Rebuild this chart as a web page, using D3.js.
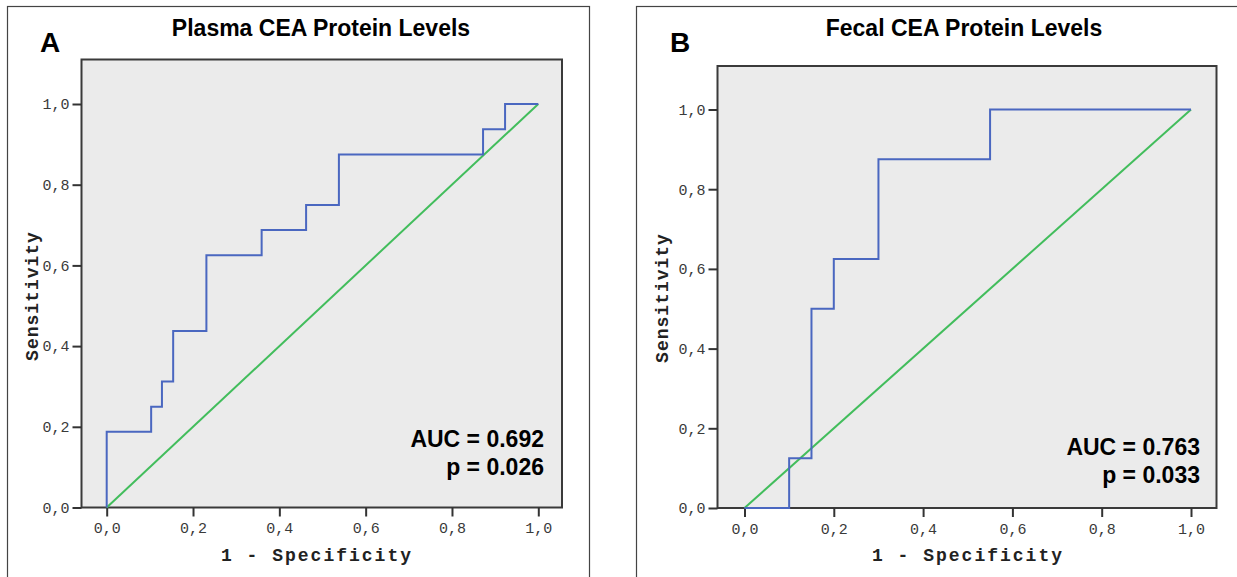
<!DOCTYPE html>
<html>

<head>
    <meta charset="utf-8">
    <style>
        body {
            margin: 0;
            background: #fff;
        }

        svg {
            display: block;
        }

        .title {
            font-family: "Liberation Sans", Arial, sans-serif;
            font-size: 23px;
            font-weight: bold;
        }

        .panel-letter {
            font-family: "Liberation Sans", Arial, sans-serif;
            font-size: 28px;
            font-weight: bold;
        }

        .stats {
            font-family: "Liberation Sans", Arial, sans-serif;
            font-size: 23px;
            font-weight: bold;
        }

        .axis-title {
            font-family: "Liberation Mono", "Courier New", monospace;
            font-size: 18px;
            font-weight: bold;
            fill: #222;
        }

        .axis .domain {
            display: none;
        }

        .axis .tick line {
            stroke: #333;
            stroke-width: 2px;
        }

        .axis .tick text {
            font-family: "Liberation Mono", "Courier New", monospace;
            font-size: 15px;
            fill: #3a3a3a;
        }
    </style>
</head>

<body>
    <svg width="1237" height="577"></svg>
</body>

<script src="https://d3js.org/d3.v7.min.js"></script>

<script>
    // tick values shared by both axes, labels use a decimal comma
    let tickValues = [0, 0.2, 0.4, 0.6, 0.8, 1.0]
    let tickLabels = ["0,0", "0,2", "0,4", "0,6", "0,8", "1,0"]

    // ROC coordinates (1 - specificity, sensitivity), stepped
    let plasmaFpr = [0, 0, 0.103, 0.128, 0.154, 0.231, 0.359, 0.462, 0.538, 0.872, 0.923, 1]
    let plasmaTpr = [0, 0.1875, 0.25, 0.3125, 0.4375, 0.625, 0.6875, 0.75, 0.875, 0.9375, 1, 1]

    let fecalFpr = [0, 0.1, 0.15, 0.2, 0.3, 0.55, 1]
    let fecalTpr = [0, 0.125, 0.5, 0.625, 0.875, 1, 1]

    // reference diagonal
    let diagonal = [0, 1]

    let titles = ["Plasma CEA Protein Levels", "Fecal CEA Protein Levels"]
    let letters = ["A", "B"]
    let aucText = ["AUC = 0.692", "AUC = 0.763"]
    let pText = ["p = 0.026", "p = 0.033"]

    let svg = d3.select("svg")

    // pixel layout of each panel
    let panels = [
        {
            frame: { x: 7.5, y: 6.5, w: 582, h: 600 },
            box: { left: 81.5, top: 59.5, right: 562, bottom: 507.5 },
            x0: 106.7, x1: 538.3, y0: 507.5, y1: 104,
            titleX: 321, letterX: 40, statsX: 544, statsY: 447,
            yTitleX: 38, yTitleY: 296, xTitleX: 317, xTitleY: 561,
            fpr: plasmaFpr, tpr: plasmaTpr
        },
        {
            frame: { x: 636.5, y: 6.5, w: 640, h: 600 },
            box: { left: 717.5, top: 66, right: 1216.5, bottom: 508 },
            x0: 744.5, x1: 1191, y0: 508, y1: 109.5,
            titleX: 964, letterX: 670, statsX: 1200, statsY: 455,
            yTitleX: 668, yTitleY: 298, xTitleX: 968, xTitleY: 561,
            fpr: fecalFpr, tpr: fecalTpr
        }
    ]

    panels.forEach(function (p, i) {
        let g = svg.append("g")

        g.append("rect")
            .attr("x", p.frame.x)
            .attr("y", p.frame.y)
            .attr("width", p.frame.w)
            .attr("height", p.frame.h)
            .style("fill", "none")
            .style("stroke", "#444")
            .style("stroke-width", "1.2px")

        let x = d3.scaleLinear().domain([0, 1]).range([p.x0, p.x1])
        let y = d3.scaleLinear().domain([0, 1]).range([p.y0, p.y1])

        // plot area
        g.append("rect")
            .attr("x", p.box.left)
            .attr("y", p.box.top)
            .attr("width", p.box.right - p.box.left)
            .attr("height", p.box.bottom - p.box.top)
            .style("fill", "#ebebeb")
            .style("stroke", "#3a3a3a")
            .style("stroke-width", "2px")

        let fmt = function (d) { return tickLabels[tickValues.indexOf(d)] }

        g.append("g")
            .attr("class", "axis")
            .attr("transform", `translate(${p.box.left},0)`)
            .call(d3.axisLeft(y).tickValues(tickValues).tickFormat(fmt).tickSize(9).tickPadding(3))

        g.append("g")
            .attr("class", "axis")
            .attr("transform", `translate(0,${p.box.bottom})`)
            .call(d3.axisBottom(x).tickValues(tickValues).tickFormat(fmt).tickSize(9).tickPadding(6))

        // green reference line
        g.append("path")
            .datum(diagonal)
            .attr("d", d3.line().x(d => x(d)).y(d => y(d)))
            .style("fill", "none")
            .style("stroke", "#42bd5c")
            .style("stroke-width", "2px")

        // ROC curve
        let pts = p.fpr.map(function (f, k) { return [f, p.tpr[k]] })
        g.append("path")
            .datum(pts)
            .attr("d", d3.line().x(d => x(d[0])).y(d => y(d[1])).curve(d3.curveStepAfter))
            .style("fill", "none")
            .style("stroke", "#4a67c0")
            .style("stroke-width", "2px")

        g.append("text")
            .attr("class", "title")
            .attr("x", p.titleX)
            .attr("y", 36)
            .attr("text-anchor", "middle")
            .text(titles[i])

        g.append("text")
            .attr("class", "panel-letter")
            .attr("x", p.letterX)
            .attr("y", 52)
            .text(letters[i])

        g.append("text")
            .attr("class", "stats")
            .attr("x", p.statsX)
            .attr("y", p.statsY)
            .attr("text-anchor", "end")
            .text(aucText[i])

        g.append("text")
            .attr("class", "stats")
            .attr("x", p.statsX)
            .attr("y", p.statsY + 28)
            .attr("text-anchor", "end")
            .text(pText[i])

        g.append("text")
            .attr("class", "axis-title")
            .attr("transform", `translate(${p.yTitleX},${p.yTitleY}) rotate(-90)`)
            .attr("text-anchor", "middle")
            .style("letter-spacing", "1px")
            .text("Sensitivity")

        g.append("text")
            .attr("class", "axis-title")
            .attr("x", p.xTitleX)
            .attr("y", p.xTitleY)
            .attr("text-anchor", "middle")
            .style("letter-spacing", "2px")
            .text("1 - Specificity")
    })
</script>

</html>
